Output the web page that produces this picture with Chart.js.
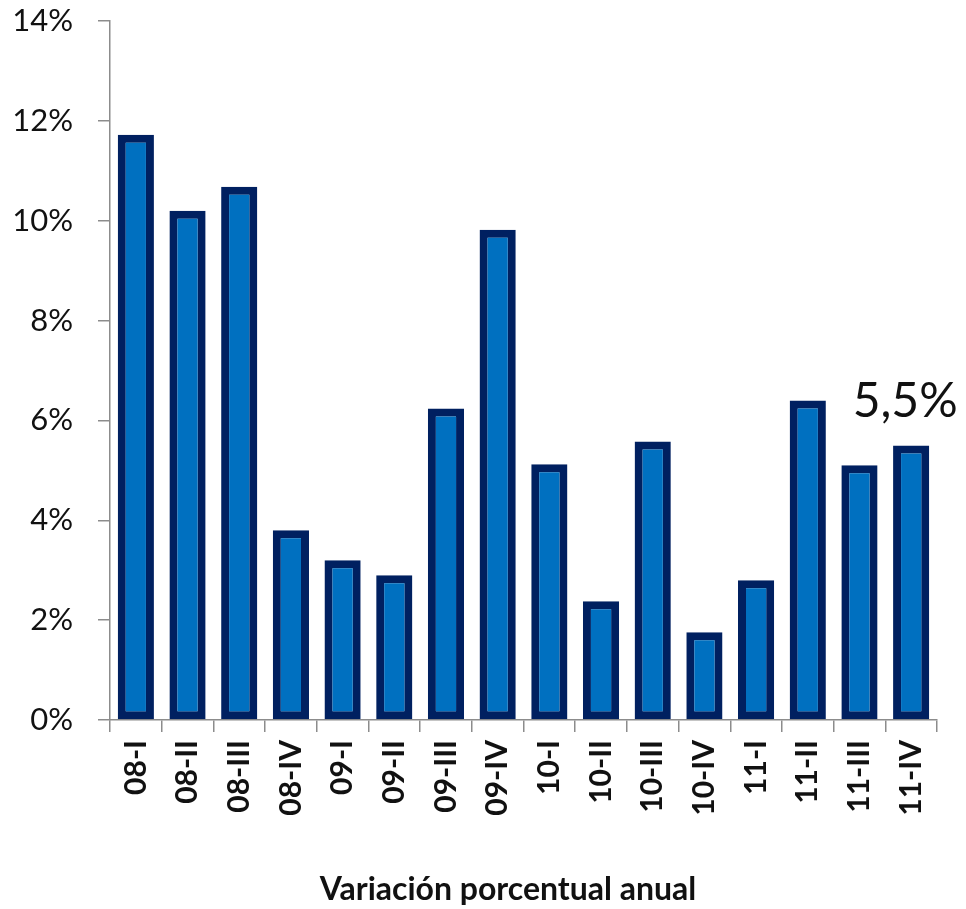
<!DOCTYPE html>
<html>
<head>
<meta charset="utf-8">
<script src="https://cdn.jsdelivr.net/npm/chart.js@4"></script>
<style>
html,body{margin:0;padding:0;background:#fff;}
canvas{display:block;}
</style>
</head>
<body>
<canvas id="c" width="966" height="909"></canvas>
<script>
const categories = ['08-I','08-II','08-III','08-IV','09-I','09-II','09-III','09-IV','10-I','10-II','10-III','10-IV','11-I','11-II','11-III','11-IV'];
const variacion = [11.72, 10.2, 10.68, 3.8, 3.2, 2.9, 6.24, 9.82, 5.12, 2.38, 5.58, 1.76, 2.8, 6.4, 5.1, 5.5];
const yTicks = [0, 2, 4, 6, 8, 10, 12, 14];
const labelledIndex = 15;
const caption = 'Variación porcentual anual';

const FONT = 'Lato, "Open Sans", sans-serif';

const valueLabel = {
  id: 'valueLabel',
  afterDatasetsDraw(chart) {
    const el = chart.getDatasetMeta(0).data[labelledIndex];
    const ctx = chart.ctx;
    ctx.save();
    ctx.font = '48px ' + FONT;
    ctx.fillStyle = '#111';
    ctx.textAlign = 'center';
    ctx.textBaseline = 'alphabetic';
    const txt = variacion[labelledIndex].toFixed(1).replace('.', ',') + '%';
    ctx.fillText(txt, el.x - 6, el.y - 28);
    ctx.restore();
  }
};

const captionPlugin = {
  id: 'captionPlugin',
  afterDraw(chart) {
    const ctx = chart.ctx;
    ctx.save();
    ctx.font = 'bold 32px ' + FONT;
    ctx.fillStyle = '#111';
    ctx.textAlign = 'center';
    ctx.textBaseline = 'middle';
    ctx.fillText(caption, 508, 890);
    ctx.restore();
  }
};

new Chart(document.getElementById('c'), {
  type: 'bar',
  data: {
    labels: categories,
    datasets: [{
      data: variacion,
      backgroundColor: '#0070C0',
      borderColor: '#002060',
      borderWidth: 8,
      borderSkipped: false,
      barPercentage: 0.7,
      categoryPercentage: 1.0
    }]
  },
  options: {
    responsive: false,
    animation: false,
    devicePixelRatio: 1,
    layout: { padding: { top: 21, right: 29, bottom: 0, left: 0 } },
    plugins: { legend: { display: false }, tooltip: { enabled: false }, title: { display: false } },
    scales: {
      x: {
        offset: true,
        grid: { display: true, offset: true, drawOnChartArea: false, drawTicks: true, tickLength: 12, color: '#8c8c8c', lineWidth: 1.5 },
        border: { display: true, color: '#8c8c8c', width: 1.5 },
        ticks: {
          minRotation: 90, maxRotation: 90, autoSkip: false, padding: 8,
          color: '#111', font: { family: FONT, size: 30, weight: 'bold' }
        },
        afterFit(s) { s.height = 189; s.paddingLeft = 0; s.paddingRight = 0; s.paddingTop = 0; s.paddingBottom = 0; }
      },
      y: {
        min: 0, max: 14,
        afterBuildTicks(s) { s.ticks = yTicks.map(v => ({ value: v })); },
        grid: { display: true, drawOnChartArea: false, drawTicks: true, tickLength: 12, color: '#8c8c8c', lineWidth: 1.5 },
        border: { display: true, color: '#8c8c8c', width: 1.5 },
        ticks: {
          padding: 25, color: '#111',
          font: { family: FONT, size: 31 },
          callback: v => v + '%'
        },
        afterFit(s) { s.width = 110; s.paddingLeft = 0; s.paddingRight = 0; s.paddingTop = 0; s.paddingBottom = 0; }
      }
    }
  },
  plugins: [valueLabel, captionPlugin]
});
</script>
</body>
</html>
